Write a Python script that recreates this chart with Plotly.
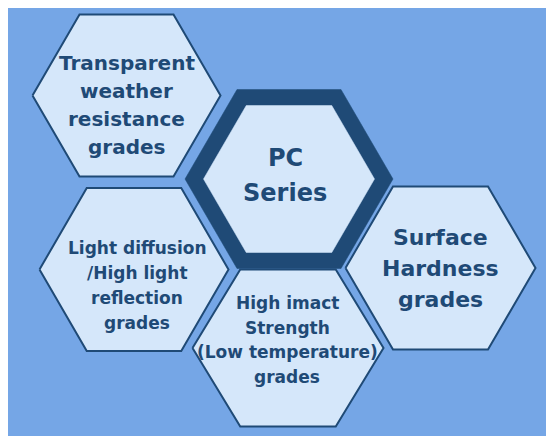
import plotly.graph_objects as go

# ---- content ----
labels = [
    ["Transparent", "weather", "resistance", "grades"],
    ["PC", "Series"],
    ["Light diffusion", "/High light", "reflection", "grades"],
    ["High imact", "Strength", "(Low temperature)", "grades"],
    ["Surface", "Hardness", "grades"],
]

# ---- geometry (page-pixel layout) ----
hex_cx = [126.5, 289, 134, 288, 440.5]
hex_cy = [95.5, 179, 269.5, 348, 268]
hex_rx = [94, 104, 94.5, 95.5, 95]
hex_ry = [81, 89.5, 81.5, 78.5, 81.5]
text_cx = [126.5, 285, 137, 287, 440]
text_y0 = [62.5, 158, 248, 303, 237]
line_gap = [28.2, 35, 25, 24.7, 31]
font_sz = [20, 24, 17, 17, 22]

BG = "#75A6E6"
FILL = "#D5E7FA"
NAVY = "#1F4A76"
W, H = 554, 436
OFF = 8  # page offset of the figure


def hexagon(cx, cy, rx, ry):
    xs = [cx - rx, cx - rx / 2, cx + rx / 2, cx + rx, cx + rx / 2, cx - rx / 2, cx - rx]
    ys = [cy, cy - ry, cy - ry, cy, cy + ry, cy + ry, cy]
    return xs, ys


fig = go.Figure()

for i in range(len(labels)):
    xs, ys = hexagon(hex_cx[i], hex_cy[i], hex_rx[i], hex_ry[i])
    if i == 1:
        fig.add_trace(go.Scatter(x=xs, y=ys, mode="lines", fill="toself",
                                 fillcolor=NAVY, line=dict(color=NAVY, width=0.5),
                                 hoverinfo="skip", showlegend=False))
        xi, yi = hexagon(hex_cx[i], hex_cy[i], 85.5, 73.5)
        fig.add_trace(go.Scatter(x=xi, y=yi, mode="lines", fill="toself",
                                 fillcolor=FILL, line=dict(color=FILL, width=0.5),
                                 hoverinfo="skip", showlegend=False))
    else:
        fig.add_trace(go.Scatter(x=xs, y=ys, mode="lines", fill="toself",
                                 fillcolor=FILL, line=dict(color=NAVY, width=2),
                                 hoverinfo="skip", showlegend=False))

annotations = []
for i, lines in enumerate(labels):
    for j, t in enumerate(lines):
        annotations.append(dict(
            x=text_cx[i], y=text_y0[i] + j * line_gap[i], text="<b>%s</b>" % t,
            showarrow=False, xanchor="center", yanchor="middle",
            font=dict(family="DejaVu Sans", size=font_sz[i], color=NAVY),
        ))

fig.update_layout(
    width=W, height=H,
    margin=dict(l=0, r=0, t=0, b=0),
    paper_bgcolor=BG, plot_bgcolor=BG,
    xaxis=dict(range=[OFF, W + OFF], visible=False, fixedrange=True),
    yaxis=dict(range=[H + OFF, OFF], visible=False, fixedrange=True),
    annotations=annotations,
)

fig.write_html("out.html")
